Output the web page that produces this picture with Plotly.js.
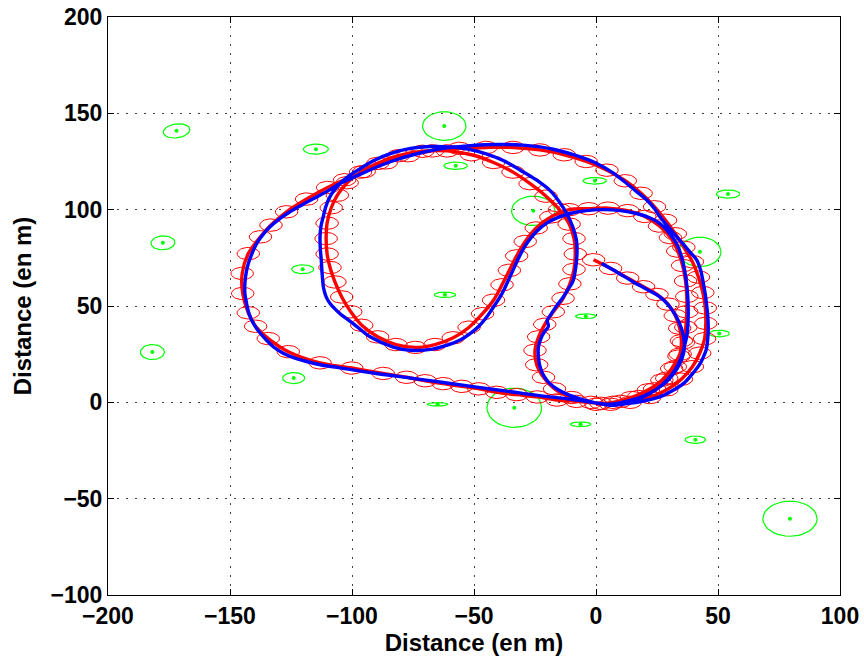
<!DOCTYPE html>
<html>
<head>
<meta charset="utf-8">
<script src="https://cdn.plot.ly/plotly-3.0.1.min.js"></script>
<style>html,body{margin:0;padding:0;background:#fff;}</style>
</head>
<body>
<div id="chart" style="width:864px;height:663px;"></div>
<script>
// ---- tick values ----
const xTicks = [-200, -150, -100, -50, 0, 50, 100];
const yTicks = [-100, -50, 0, 50, 100, 150, 200];

// ---- landmarks (green): centre, semi-axes, tilt (deg) ----
const lmX = [-171.9, -62.2, -114.8, -57.5, -0.5, -25.7, 54.1, -177.5, -120.2, 42.6, -61.9, -4.2, 50.5, -181.8, -123.9, -64.9, -33.5, -6.3, 40.7, 79.5];
const lmY = [140.9, 143.4, 131.4, 122.8, 115.0, 99.4, 108.1, 82.8, 69.1, 78.1, 55.8, 44.7, 35.7, 26.1, 12.6, -1.0, -2.8, -11.4, -19.4, -60.4];
const lmA = [5.5, 8.9, 5.1, 4.8, 4.8, 8.9, 4.8, 4.9, 4.5, 8.6, 4.4, 4.2, 4.2, 4.9, 4.5, 4.2, 11.2, 4.2, 4.2, 11.1];
const lmB = [3.6, 7.4, 2.6, 1.9, 1.7, 7.6, 2.1, 3.6, 2.3, 7.6, 1.4, 1.2, 1.7, 3.9, 2.85, 0.9, 10.2, 1.2, 1.9, 9.1];
const lmTilt = [12, 0, 0, 0, 0, 0, 0, 5, 0, 0, 0, 0, 0, 0, 0, 0, 0, 0, 0, 0];

// ---- estimated poses (red), each with an uncertainty ellipse ----
const redX = [
 -1, 6, 13, 19.5, 25, 29.5, 32.5, 34.3, 35, 34.5, 32.5, 29, 24, 17.5, 10, 2,
 -8, -16, -24, -32.5, -40.7, -48, -55, -62.6, -70, -77.6, -87.2, -100.1, -113.1, -126.1, -134.3, -139.5, -142.5, -144.8, -145, -142.5, -137.5, -133.2, -126.8, -118.6, -110, -103,
 -95, -86, -77, -67, -56, -45, -34, -23, -13, -4, 4.5, 12, 18.5, 24, 28.5, 32.5, 36, 39.5, 42, 43.8, 44.8, 45, 44.5, 42.5, 39.5, 35, 29, 22, 14, 6,
 -2, -10, -17, -21.5, -24.3, -25, -23.5, -21, -17.5, -13.5, -10.7, -9, -8.5, -9, -11, -15, -20.5, -27, -34, -42, -51, -61, -71, -81, -89.5, -96.5, -102,
 -106, -108.5, -110.2, -110.6, -110.2, -109, -107, -104.2, -100.5, -96, -89.5, -82, -74, -66, -58.5, -52, -46.5, -42, -38.5, -35.5, -32.5, -29, -24.5, -18.5, -11, -3, 5, 13, 20, 26, 30.5, 33.5, 35.5, 36.7, 37.2, 37.2, 36.8, 35.8, 34, 31, 27, 21.5, 14.5, 7, 0
];
const redY = [
 74, 69.5, 64.5, 60, 56, 51, 45, 38.5, 32, 25, 18.5, 12.5, 7, 3, 0.5, -0.5,
 0.5, 1.2, 2.8, 4, 5.2, 7, 8.3, 9.7, 11.2, 13, 15, 17.8, 20.5, 26.3, 33.1, 39.5, 46.5, 56.5, 66.9, 77.2, 85.9, 92, 98.9, 105.5, 111.5, 115.5,
 119.8, 124.3, 128, 130.5, 131.8, 132.3, 132.3, 131, 128.5, 125, 120.5, 115, 108.5, 101.5, 94.5, 87.5, 80.5, 73, 65, 57, 49, 41, 33, 25.5, 18.5, 12, 6.5, 2.5, 0, -1,
 0, 2.5, 7, 13, 19.5, 27, 34, 40.5, 47, 54, 61.5, 69, 77, 85, 92.5, 100, 107, 113.5, 119.5, 124.5, 128.5, 130.5, 130.3, 128, 124, 119.5, 114,
 107.5, 101, 93, 85, 77, 70, 62.5, 54.7, 47, 40, 34, 30, 28.5, 30, 33.5, 39, 46, 53, 61, 68.5, 76, 83.5, 90.5, 96.2, 100, 100.5, 100.8, 99.5, 96.5, 91.5, 85.5, 78.5, 71, 63, 55, 47, 39, 31, 24, 17.5, 11.5, 6.5, 2.5, 0, -1
];
const redEllA = 4.6;
const redEllB = 3.2;

// ---- true trajectory (blue) ----
const blueX = [
 2.3, 9, 15.3, 21, 26.2, 30, 33, 35, 36, 36.2, 35.2, 33, 29.5, 25, 19.5, 12.5, 5.5,
 -2.5, -10.7, -21.6, -35, -48.9, -62.5, -76, -91.3, -104.9, -112.5, -118.6, -124, -128.2, -132, -135, -138, -140.4, -142.2, -143.2, -143.9, -143.9, -143.4, -142.5, -141, -139.1, -136.6, -133.6, -129.7, -125.4, -120, -114.5, -109.5, -104.9,
 -99, -92, -84, -75, -65, -54, -42, -30, -18, -8, 0.3, 6.5, 12.6, 17, 20.8, 24, 26.2, 29, 32, 35.5, 38.5, 41.3, 43, 44, 44.8, 45.3, 45.8, 46, 45.8, 45.2, 44, 42.6, 39.5, 35.8, 31, 26.2, 19.5, 12.6, 5.7,
 -2.5, -10.7, -15.5, -18.9, -21.5, -22.9, -23.6, -23.6, -22.3, -21.2, -19.5, -20, -18.8, -16.3, -13.4, -11, -9.4, -8.3, -7.8, -8, -9.5, -12, -15, -18.9, -24.3, -31, -38, -45, -52, -60, -68, -76, -84, -91, -97, -101.5, -104.9,
 -107.5, -109.5, -110.8, -111.8, -112.7, -113.1, -113, -112.6, -112.2, -111.6, -110.5, -109, -107, -104.9, -99.5, -92.6, -83.1, -76, -67, -61.2, -55.5, -51.6, -48, -44.8, -42, -39.3, -37.5, -35.9, -34, -31.5, -28.4, -24.5, -20.2, -15.5, -10.7, -4, 3, 10, 16.6, 22, 26, 30, 33, 35.3, 37, 37.6, 37.8, 37.7, 37.3, 36.2, 35, 32.5, 29, 24.5, 19.4, 13, 7
];
const blueY = [
 72, 67.3, 62.5, 58.5, 54.7, 50, 44.3, 38.5, 33, 28, 22.5, 17, 11.5, 7, 3.3, 0.5, -1,
 0.2, 1.7, 3.2, 5.5, 7.9, 10.3, 12.6, 15.2, 17.9, 19.4, 21.2, 23.2, 25.5, 28.6, 32.2, 36.5, 40.9, 46, 51.3, 56.5, 61.7, 67, 72, 77.2, 82.4, 86.9, 91.1, 95.2, 98.9, 102.8, 106.6, 110, 113.6,
 117, 121, 125, 128.5, 131.3, 133, 133.8, 133.5, 131.5, 128, 124, 119.5, 113.6, 109, 105, 100.5, 96.3, 92, 87.5, 82.5, 78, 73.8, 68, 61.7, 56, 51, 45, 39, 33, 27.5, 23.5, 20, 14.8, 9.7, 5.8, 2.8, 0.7, -0.7, -1.5,
 0.4, 3.6, 6.5, 9.7, 14, 18.3, 23.5, 28.7, 34, 36.5, 39.5, 42.5, 45, 49.8, 54.7, 59.5, 63, 70, 77, 84, 91, 98, 104, 110, 115.3, 120.5, 125.5, 129, 131.3, 132.6, 132.8, 131.8, 129.2, 125.5, 121, 117.3, 113.6,
 109.8, 105.5, 101.3, 96.3, 91.5, 86, 80, 74, 66, 59, 54.5, 51.3, 48.5, 46, 40.9, 34, 28.7, 27, 27.6, 29.6, 32.5, 35.7, 39.5, 44.3, 49.5, 54.7, 59, 63.4, 68.6, 75.5, 82.4, 88.5, 93, 96, 98, 99.5, 100, 99.5, 98, 95.8, 93, 88, 82.4, 74.5, 63, 55, 48, 41, 35, 29, 23.5, 17, 11.4, 6.5, 2.8, 0.3, -1.5
];

// ---- ellipse outline helper (parametric outline around a data centre) ----
function addEllipse(xs, ys, cx, cy, a, b, deg) {
  const th = deg * Math.PI / 180, n = 40;
  for (let i = 0; i <= n; i++) {
    const t = 2 * Math.PI * i / n;
    const ex = a * Math.cos(t), ey = b * Math.sin(t);
    xs.push(cx + ex * Math.cos(th) - ey * Math.sin(th));
    ys.push(cy + ex * Math.sin(th) + ey * Math.cos(th));
  }
  xs.push(null); ys.push(null);
}

const gEx = [], gEy = [];
for (let i = 0; i < lmX.length; i++) addEllipse(gEx, gEy, lmX[i], lmY[i], lmA[i], lmB[i], lmTilt[i]);
const rEx = [], rEy = [];
for (let i = 0; i < redX.length; i++) addEllipse(rEx, rEy, redX[i], redY[i], redEllA, redEllB, 0);

const traces = [
  {x: gEx, y: gEy, mode: 'lines', line: {color: '#00ff00', width: 1.2}, hoverinfo: 'skip', showlegend: false},
  {x: rEx, y: rEy, mode: 'lines', line: {color: '#ff0000', width: 1}, hoverinfo: 'skip', showlegend: false},
  {x: redX, y: redY, mode: 'lines', line: {color: '#ff0000', width: 3.4, shape: 'spline', smoothing: 1}, showlegend: false},
  {x: blueX, y: blueY, mode: 'lines', line: {color: '#0000ff', width: 3.4, shape: 'spline', smoothing: 1}, showlegend: false},
  {x: lmX, y: lmY, mode: 'markers', marker: {color: '#00ff00', size: 4}, showlegend: false}
];

const tickFont = {family: 'Liberation Sans, Arial, sans-serif', size: 23, color: '#000', weight: 700};
const titleFont = {family: 'Liberation Sans, Arial, sans-serif', size: 24, color: '#000', weight: 700};
const axisCommon = {
  ticks: 'inside', ticklen: 6, tickwidth: 1, tickcolor: '#000',
  showline: true, linecolor: '#000', linewidth: 1, mirror: 'allticks',
  showgrid: true, gridcolor: '#444', gridwidth: 1, griddash: '2px,7px',
  zeroline: false, tickfont: tickFont, automargin: false, fixedrange: true
};

const layout = {
  width: 864, height: 663,
  margin: {l: 108, r: 24, t: 17, b: 68},
  paper_bgcolor: '#fff', plot_bgcolor: '#fff',
  showlegend: false,
  xaxis: Object.assign({}, axisCommon, {
    range: [-200, 100], tickvals: xTicks,
    title: {text: 'Distance (en m)', font: titleFont, standoff: 4}
  }),
  yaxis: Object.assign({}, axisCommon, {
    range: [-100, 200], tickvals: yTicks,
    title: {text: 'Distance (en m)', font: titleFont, standoff: 12}
  })
};

Plotly.newPlot('chart', traces, layout, {displayModeBar: false, staticPlot: true});
</script>
</body>
</html>
